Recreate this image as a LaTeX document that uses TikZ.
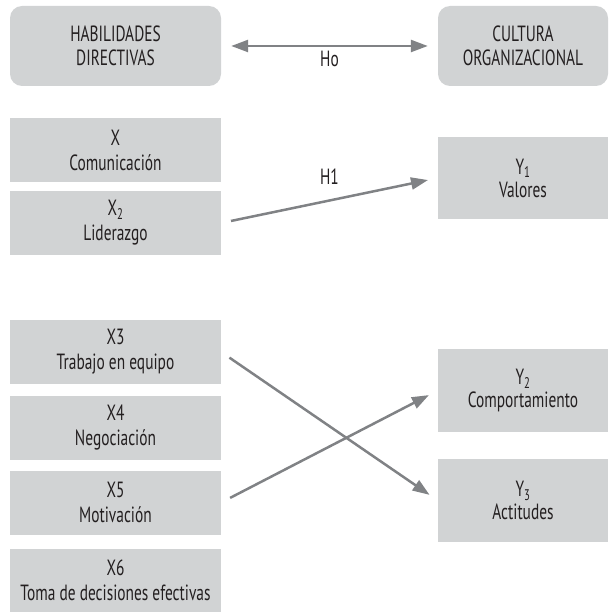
\documentclass[tikz,border=0pt]{standalone}
\usepackage{fontspec}
\setmainfont{PT Sans}[FakeStretch=0.70]
\usetikzlibrary{positioning, arrows.meta}
\definecolor{boxgray}{RGB}{209,211,212}
\definecolor{arrgray}{RGB}{128,130,133}
\definecolor{txtdark}{RGB}{35,31,32}
\tikzset{
    topbox/.style={rectangle, rounded corners=12pt, fill=boxgray, minimum height=80pt, align=center, font=\fontsize{22}{24}\selectfont, text=txtdark, inner sep=0pt},
    xbox/.style={rectangle, fill=boxgray, minimum width=211pt, minimum height=64pt, align=center, font=\fontsize{22}{25}\selectfont, text=txtdark, inner sep=0pt},
    ybox/.style={rectangle, fill=boxgray, minimum width=170pt, minimum height=83pt, align=center, font=\fontsize{22}{23}\selectfont, text=txtdark, inner sep=0pt},
    arr/.style={-{Triangle[length=17pt, width=12pt]}, line width=2.5pt, color=arrgray, shorten <=10pt, shorten >=10pt},
    arrboth/.style={{Triangle[length=17pt, width=12pt]}-{Triangle[length=17pt, width=12pt]}, line width=2.5pt, color=arrgray, shorten <=10pt, shorten >=10pt},
    hyplbl/.style={font=\fontsize{22}{22}\selectfont, text=txtdark, inner sep=0pt}
}

\begin{document}
\begin{tikzpicture}[x=1pt, y=-1pt]
    \useasboundingbox (0,0) rectangle (609,612);

    \node[topbox, minimum width=211pt] (hd) at (115.5,46) {HABILIDADES\\DIRECTIVAS};
    \node[topbox, minimum width=170pt] (co) at (523,46) {CULTURA\\ORGANIZACIONAL};

    \node[xbox] (x1) at (115.5,150) {X\\Comunicación};
    \node[xbox] (x2) at (115.5,223) {X\textsubscript{2}\\Liderazgo};
    \node[xbox] (x3) at (115.5,352) {X3\\Trabajo en equipo};
    \node[xbox] (x4) at (115.5,428) {X4\\Negociación};
    \node[xbox] (x5) at (115.5,502.5) {X5\\Motivación};
    \node[xbox, minimum height=63pt] (x6) at (115.5,580.5) {X6\\Toma de decisiones efectivas};

    \node[ybox, minimum height=82pt] (y1) at (523,178) {Y\textsubscript{1}\\Valores};
    \node[ybox] (y2) at (523,390.5) {Y\textsubscript{2}\\Comportamiento};
    \node[ybox] (y3) at (523,500.5) {Y\textsubscript{3}\\Actitudes};

    \draw[arrboth] (hd) -- (co) node[hyplbl, midway, below=4pt] {Ho};
    \draw[arr] (x2.east) -- (y1.west) node[hyplbl, midway, above=15pt] {H1};
    \draw[arr] (x3.east) -- (y3.west);
    \draw[arr] (x5.east) -- (y2.west);
\end{tikzpicture}
\end{document}
